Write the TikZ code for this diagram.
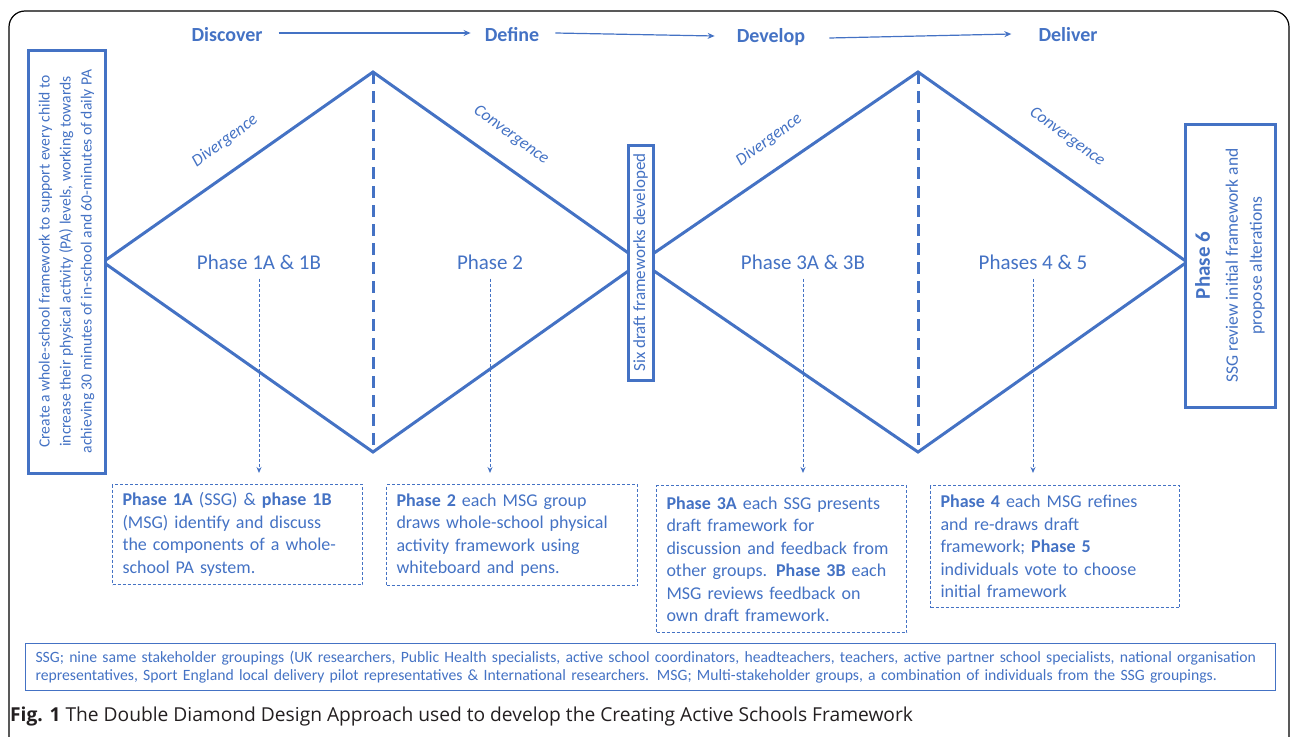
\documentclass[tikz,border=0pt]{standalone}
\usepackage{fontspec}
\setmainfont{Carlito}
\newfontfamily\capfont{Open Sans}
\usetikzlibrary{arrows.meta, positioning, calc}
\definecolor{officeblue}{RGB}{68,114,196}
\definecolor{captiongray}{RGB}{35,31,32}
\tikzset{
  bigline/.style={draw=officeblue, line width=3pt},
  stagebox/.style={draw=officeblue, line width=3pt, fill=white, text=officeblue,
    align=center, inner sep=0pt},
  header/.style={text=officeblue, inner sep=0pt, font=\fontsize{20}{24}\selectfont\bfseries},
  hdrarrow/.style={draw=officeblue, line width=1.2pt, -{Stealth[length=7pt,width=6pt]}},
  divlabel/.style={text=officeblue, inner sep=0pt, font=\fontsize{17}{20}\selectfont\itshape},
  phaselabel/.style={text=officeblue, inner sep=0pt, font=\fontsize{21}{25}\selectfont},
  downarrow/.style={draw=officeblue, line width=1pt, dash pattern=on 3pt off 2pt,
    -{Stealth[length=6pt,width=5pt]}},
  notebox/.style={draw=officeblue, line width=1pt, dash pattern=on 3pt off 2pt,
    text=officeblue, align=left, anchor=north west, inner xsep=10pt, inner ysep=4pt,
    font=\fontsize{18}{22.5}\selectfont},
  footbox/.style={draw=officeblue, line width=1pt, text=officeblue, align=left,
    anchor=north west, inner xsep=10pt, inner ysep=2pt, font=\fontsize{15.7}{18}\selectfont}
}

\begin{document}
\begin{tikzpicture}[x=1pt, y=-1pt]
\useasboundingbox (0,0) rectangle (1290,736);
% outer frame
\draw[black, line width=1.2pt, rounded corners=16pt] (9,11) rectangle (1289,760);

% stages along the top
\node[header] (discover) at (227,35) {Discover};
\node[header] (define) at (512,35) {Define};
\node[header] (develop) at (771,37) {Develop};
\node[header] (deliver) at (1068,35) {Deliver};
\draw[hdrarrow] ([xshift=16pt,yshift=2pt]discover.east) -- ([xshift=-14pt,yshift=2pt]define.west);
\draw[hdrarrow] ([xshift=16pt,yshift=2pt]define.east) -- ([xshift=-22pt,yshift=1pt]develop.west);
\draw[hdrarrow] ([xshift=24pt,yshift=-1pt]develop.east) -- ([xshift=-27pt,yshift=1pt]deliver.west);

% the two diamonds
\coordinate (l1) at (103,262);
\coordinate (t1) at (373,72);
\coordinate (b1) at (373,452);
\coordinate (mid) at (641,262);
\coordinate (t2) at (918,72);
\coordinate (b2) at (918,452);
\coordinate (r2) at (1187,262);
\draw[bigline] (l1) -- (t1) -- (mid) -- (b1) -- cycle;
\draw[bigline] (mid) -- (t2) -- (r2) -- (b2) -- cycle;
\draw[bigline, dash pattern=on 12pt off 7pt] (t1) -- (b1);
\draw[bigline, dash pattern=on 12pt off 7pt] (t2) -- (b2);

\node[divlabel, rotate=36] (div1) at (225,141) {Divergence};
\node[divlabel, rotate=-36] (conv1) at (511,135) {Convergence};
\node[divlabel, rotate=36] (div2) at (769,140) {Divergence};
\node[divlabel, rotate=-36] (conv2) at (1067,137) {Convergence};

% boxes on the vertices
\node[stagebox, rotate=90, minimum width=423pt, minimum height=77pt,
  font=\fontsize{15.6}{21}\selectfont] (goal) at (66.5,261.5)
  {Create a whole-school framework to support every child to\\
   increase their physical activity (PA) levels, working towards\\
   achieving 30 minutes of in-school and 60-minutes of daily PA};
\node[stagebox, rotate=90, minimum width=235pt, minimum height=25pt,
  font=\fontsize{17}{20}\selectfont] (six) at (640.5,262.5) {Six draft frameworks developed};
\node[stagebox, rotate=90, minimum width=283pt, minimum height=90pt,
  font=\fontsize{17.5}{24}\selectfont] (phase6) at (1230,265.5)
  {{\fontsize{21}{25}\selectfont\bfseries Phase 6}\\[4pt]
   SSG review initial framework and\\propose alterations};

% phases
\node[phaselabel] (ph1) at (259,262) {Phase 1A \& 1B};
\node[phaselabel] (ph2) at (490,262) {Phase 2};
\node[phaselabel] (ph3) at (803,262) {Phase 3A \& 3B};
\node[phaselabel] (ph4) at (1033,262) {Phases 4 \& 5};

\node[notebox, minimum width=250pt, minimum height=100pt, text width=230pt] (note1) at (112,484)
  {\textbf{Phase 1A} (SSG) \& \textbf{phase 1B}\\(MSG) identify and discuss\\the components of a whole-\\school PA system.};
\node[notebox, minimum width=251pt, minimum height=101pt, text width=231pt] (note2) at (386,484)
  {\textbf{Phase 2} each MSG group\\draws whole-school physical\\activity framework using\\whiteboard and pens.};
\node[notebox, minimum width=250pt, minimum height=147pt, text width=230pt] (note3) at (656,485)
  {\textbf{Phase 3A} each SSG presents\\draft framework for\\discussion and feedback from\\other groups. \textbf{Phase 3B} each\\MSG reviews feedback on\\own draft framework.};
\node[notebox, minimum width=249pt, minimum height=122pt, text width=229pt] (note4) at (930,485)
  {\textbf{Phase 4} each MSG refines\\and re-draws draft\\framework; \textbf{Phase 5}\\individuals vote to choose\\initial framework};

\draw[downarrow, shorten <=9pt, shorten >=11pt] (ph1.south) -- (ph1.south |- note1.north);
\draw[downarrow, shorten <=9pt, shorten >=11pt] (ph2.south) -- (ph2.south |- note2.north);
\draw[downarrow, shorten <=9pt, shorten >=12pt] (ph3.south) -- (ph3.south |- note3.north);
\draw[downarrow, shorten <=9pt, shorten >=12pt] (ph4.south) -- (ph4.south |- note4.north);

% key and caption
\node[footbox, minimum width=1250pt, minimum height=47pt, text width=1230pt] (key) at (25,643)
  {SSG; nine same stakeholder groupings (UK researchers, Public Health specialists, active school coordinators, headteachers, teachers, active partner school specialists, national organisation\\
   representatives, Sport England local delivery pilot representatives \& International researchers. MSG; Multi-stakeholder groups, a combination of individuals from the SSG groupings.};
\node[anchor=west, inner sep=0pt, text=captiongray, font=\capfont\fontsize{19.2}{23}\selectfont] (caption) at (10,717)
  {\textbf{Fig. 1} The Double Diamond Design Approach used to develop the Creating Active Schools Framework};
\end{tikzpicture}
\end{document}
